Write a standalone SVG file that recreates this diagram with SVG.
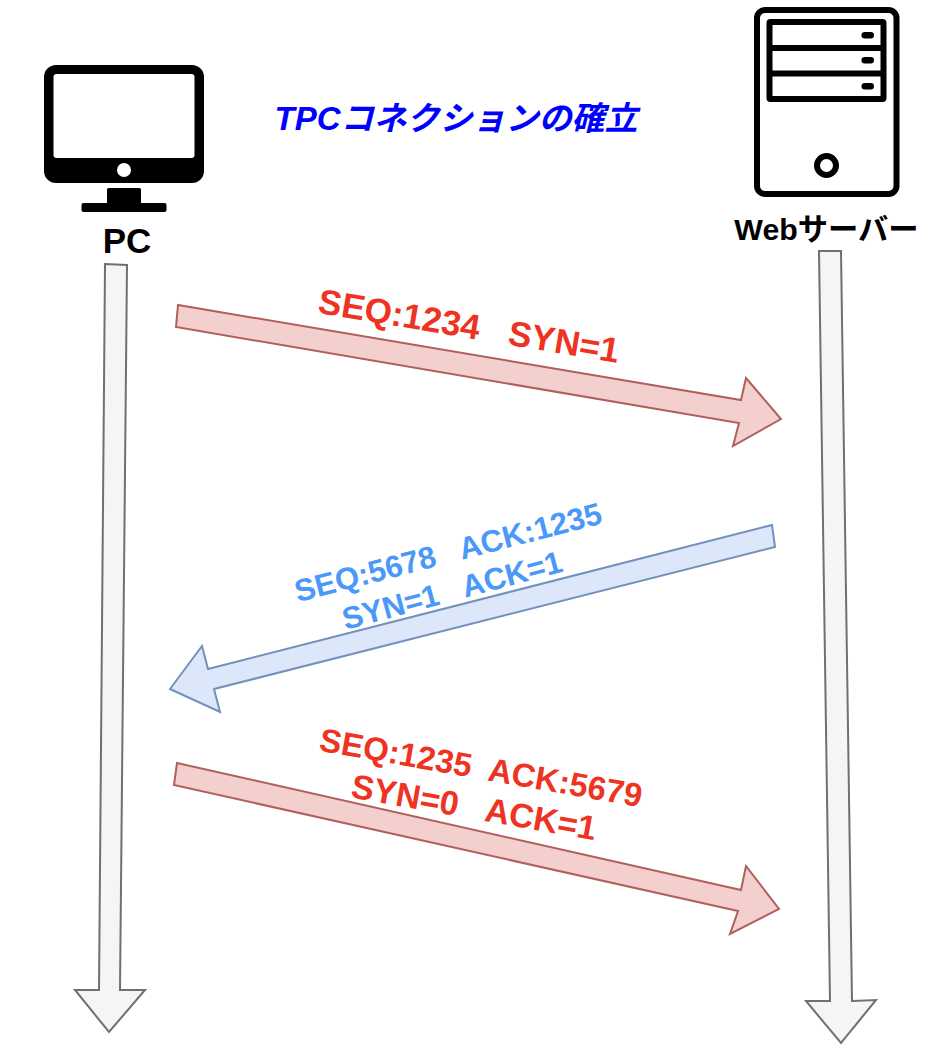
<svg xmlns="http://www.w3.org/2000/svg" width="928" height="1052" viewBox="0 0 928 1052">
<style>
text{font-family:"Liberation Sans","Noto Sans CJK JP",sans-serif;font-weight:700;text-anchor:middle;white-space:pre}
.lbl{font-size:35px;fill:#000}
.m{font-size:33px}
.r{fill:#ee3322}
.b{fill:#4a98f7;font-size:31px}
.red{fill:#f3d0cd;stroke:#b0605c;stroke-width:2}
.blue{fill:#dce8fa;stroke:#7390bb;stroke-width:2}
.gray{fill:#f5f5f5;stroke:#707070;stroke-width:2}
</style>
<rect width="928" height="1052" fill="#fff"/>
<g id="connectors">
<polygon class="gray" points="105,264 127,265 120,990 145,990 109,1032 75,990 99,990"/>
<polygon class="gray" points="819,251 841,251 852,1001 876,1000 841,1043 806,1001 830,1001"/>
<polygon class="red" points="178,305 176,327 739,423 733,446 781,419 746,378 741,400"/>
<polygon class="blue" points="772,525 775,547 214,689 220,712 170,689 202,646 208,669"/>
<polygon class="red" points="177,763 174,785 738,911 730,934 779,909 746,866 741,890"/>
</g>
<g id="pc">
<rect x="44" y="65" width="160" height="118" rx="12" fill="#000"/>
<rect x="53.500" y="74" width="141" height="84" rx="3" fill="#fff"/>
<circle cx="124" cy="170" r="7" fill="#fff"/>
<rect x="107" y="188" width="34" height="17" rx="1.500" fill="#000"/>
<rect x="81.500" y="203" width="85" height="9" rx="2" fill="#000"/>
<text class="lbl" x="127" y="253">PC</text>
</g>
<g id="server">
<rect x="757" y="10" width="139.500" height="184" rx="8" fill="#fff" stroke="#000" stroke-width="6"/>
<rect x="769.500" y="22" width="114" height="77" rx="1" fill="#fff" stroke="#000" stroke-width="6"/>
<path d="M770 48H883M770 73.500H883" stroke="#000" stroke-width="6" fill="none"/>
<rect x="861.500" y="32" width="12.500" height="6.500" rx="3.200" fill="#000"/>
<rect x="861.500" y="57" width="12.500" height="6.500" rx="3.200" fill="#000"/>
<rect x="861.500" y="83" width="12.500" height="6.500" rx="3.200" fill="#000"/>
<circle cx="826.500" cy="165.500" r="9.500" fill="#fff" stroke="#000" stroke-width="6"/>
<text class="lbl" x="826.500" y="240" style="font-size:30.300px">Webサーバー</text>
</g>
<g id="title">
<text x="456" y="130" style="font-size:33px;font-style:italic;fill:#0000ff">TPCコネクションの確立</text>
</g>
<g id="msg1">
<text class="m r" style="font-size:35px" transform="translate(469 326) rotate(9.500)" y="12">SEQ:1234   SYN=1</text>
</g>
<g id="msg2">
<text class="m b" transform="translate(448 552) rotate(-14.500)" y="11">SEQ:5678   ACK:1235</text>
<text class="m b" transform="translate(452 590) rotate(-15)" y="11">SYN=1   ACK=1</text>
</g>
<g id="msg3">
<text class="m r" transform="translate(481 768) rotate(10)" y="11">SEQ:1235  ACK:5679</text>
<text class="m r" style="font-size:34px" transform="translate(474 807) rotate(10)" y="12">SYN=0   ACK=1</text>
</g>
</svg>
